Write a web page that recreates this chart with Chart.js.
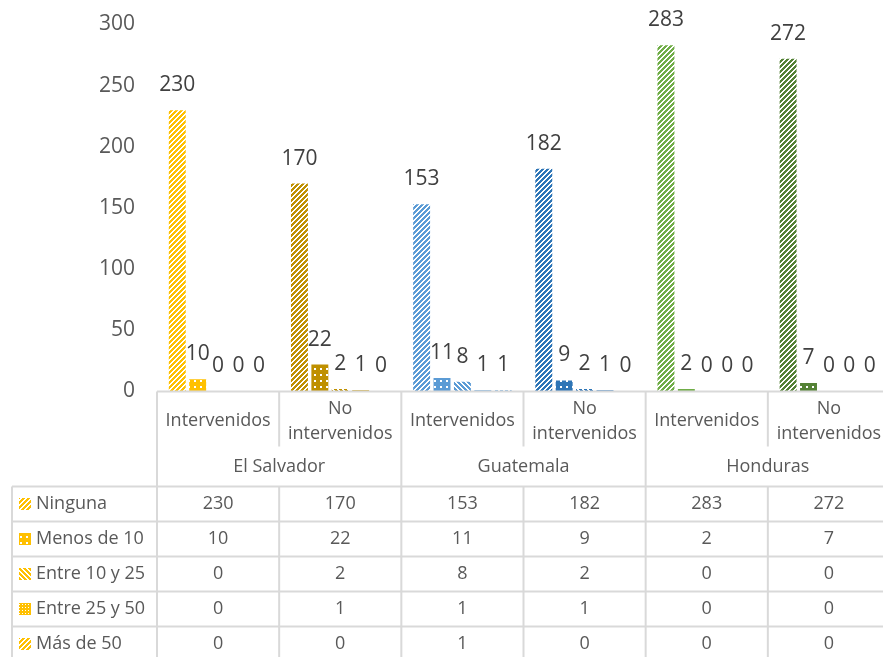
<!DOCTYPE html>
<html>
<head>
<meta charset="utf-8">
<script src="https://cdn.jsdelivr.net/npm/chart.js@4.4.1/dist/chart.umd.min.js"></script>
<style>
  html, body { margin: 0; padding: 0; background: #fff; overflow: hidden; }
  #wrap { width: 900px; height: 657px; }
</style>
</head>
<body>
<div id="wrap"><canvas id="myChart" width="900" height="657"></canvas></div>
<script>
// categories (two levels)
const groupLabels = ['Intervenidos', 'No\nintervenidos', 'Intervenidos', 'No\nintervenidos', 'Intervenidos', 'No\nintervenidos'];
const countries = ['El Salvador', 'Guatemala', 'Honduras'];

// series
const seriesNames = ['Ninguna', 'Menos de 10', 'Entre 10 y 25', 'Entre 25 y 50', 'Más de 50'];
const ninguna = [230, 170, 153, 182, 283, 272];
const menosDe10 = [10, 22, 11, 9, 2, 7];
const entre10y25 = [0, 2, 8, 2, 0, 0];
const entre25y50 = [0, 1, 1, 1, 0, 0];
const masDe50 = [0, 0, 1, 0, 0, 0];

// y axis ticks
const yTicks = [0, 50, 100, 150, 200, 250, 300];

const categoryColors = ['#FFC000', '#BF9000', '#5B9BD5', '#2E75B6', '#70AD47', '#548235'];
const patternKinds = ['up', 'dots', 'down', 'grid', 'up'];

const textColor = '#595959';
const lineColor = '#D9D9D9';

function makePattern(color, kind) {
    var c = document.createElement('canvas');
    var n = (kind == 'dots' || kind == 'grid') ? 6 : 5;
    c.width = n; c.height = n;
    var p = c.getContext('2d');
    p.fillStyle = '#fff';
    p.fillRect(0, 0, n, n);
    p.fillStyle = color;
    for (let x = 0; x < n; x++) {
        for (let y = 0; y < n; y++) {
            var on = false;
            if (kind == 'up') on = ((x + y) % 5) < 3;
            if (kind == 'down') on = (((x - y) % 5) + 5) % 5 < 3;
            if (kind == 'dots') on = !((x == 2 || x == 3) && (y == 2 || y == 3));
            if (kind == 'grid') on = !((x == 1 && y == 1) || (x == 4 && y == 4) || (x == 1 && y == 4) || (x == 4 && y == 1));
            if (on) p.fillRect(x, y, 1, 1);
        }
    }
    return p.createPattern(c, 'repeat');
}

const seriesData = [ninguna, menosDe10, entre10y25, entre25y50, masDe50];

var datasets = seriesNames.map(function (name, s) {
    return {
        label: name,
        data: seriesData[s],
        backgroundColor: categoryColors.map(col => makePattern(col, patternKinds[s])),
        borderWidth: 0,
        categoryPercentage: 0.835,
        barPercentage: 0.83
    }
});

// value labels above bars
const barLabels = {
    id: 'barLabels',
    afterDatasetsDraw(chart) {
        const ctx = chart.ctx;
        ctx.save();
        ctx.font = "21px 'Open Sans'";
        ctx.fillStyle = '#404040';
        ctx.textAlign = 'center';
        ctx.textBaseline = 'middle';
        chart.data.datasets.forEach(function (ds, i) {
            chart.getDatasetMeta(i).data.forEach(function (bar, j) {
                ctx.fillText(String(ds.data[j]), bar.x, bar.y - 25);
            });
        });
        ctx.restore();
    }
};

// data table under the plot
const dataTable = {
    id: 'dataTable',
    afterDraw(chart) {
        const ctx = chart.ctx;
        const area = chart.chartArea;
        const top = area.bottom;
        const bottom = 662;
        const colW = (area.right - area.left) / groupLabels.length;
        const tableTop = top + 95;
        const rowH = 35;
        const leftEdge = 12;

        ctx.save();
        ctx.strokeStyle = lineColor;
        ctx.lineWidth = 2;
        function line(x1, y1, x2, y2) {
            ctx.beginPath(); ctx.moveTo(x1, y1); ctx.lineTo(x2, y2); ctx.stroke();
        }
        line(area.left, top, area.right, top);
        line(leftEdge, tableTop, area.right, tableTop);
        for (let r = 1; r <= seriesNames.length; r++) {
            line(leftEdge, tableTop + r * rowH, area.right, tableTop + r * rowH);
        }
        line(area.left, top, area.left, bottom);
        line(area.right, top, area.right, bottom);
        line(leftEdge, tableTop, leftEdge, bottom);
        for (let i = 1; i < groupLabels.length; i++) {
            const x = area.left + i * colW;
            if (i % 2 == 0) {
                line(x, top, x, bottom);
            } else {
                line(x, top, x, top + 55);
                line(x, tableTop, x, bottom);
            }
        }

        ctx.font = "18px 'Open Sans'";
        ctx.fillStyle = textColor;
        ctx.textAlign = 'center';
        ctx.textBaseline = 'middle';
        groupLabels.forEach(function (lab, i) {
            const cx = area.left + (i + 0.5) * colW;
            const parts = lab.split('\n');
            if (parts.length == 2) {
                ctx.fillText(parts[0], cx, top + 17.5);
                ctx.fillText(parts[1], cx, top + 42.5);
            } else {
                ctx.fillText(parts[0], cx, top + 29.5);
            }
        });
        countries.forEach(function (name, g) {
            ctx.fillText(name, area.left + (2 * g + 1) * colW, top + 75.5);
        });

        chart.data.datasets.forEach(function (ds, s) {
            const cy = tableTop + (s + 0.5) * rowH;
            ctx.fillStyle = ds.backgroundColor[0];
            ctx.fillRect(19, cy - 6, 12, 12);
            ctx.fillStyle = textColor;
            ctx.textAlign = 'left';
            ctx.fillText(ds.label, 36, cy);
            ctx.textAlign = 'center';
            ds.data.forEach(function (v, j) {
                ctx.fillText(String(v), area.left + (j + 0.5) * colW, cy);
            });
        });
        ctx.restore();
    }
};

Chart.defaults.font.family = "'Open Sans'";
Chart.defaults.color = textColor;

new Chart(document.getElementById('myChart').getContext('2d'), {
    type: 'bar',
    data: {
        labels: groupLabels,
        datasets: datasets
    },
    options: {
        responsive: false,
        animation: false,
        layout: {
            padding: { left: 0, right: 10, top: 24.5, bottom: 265.5 }
        },
        plugins: {
            legend: { display: false },
            tooltip: { enabled: false }
        },
        scales: {
            x: {
                display: false,
                grid: { display: false }
            },
            y: {
                min: 0,
                max: 300,
                afterFit: function (scale) {
                    scale.width = 157;
                    scale.paddingTop = 0;
                    scale.paddingBottom = 0;
                },
                afterBuildTicks: function (scale) {
                    scale.ticks = yTicks.map(v => ({ value: v }));
                },
                border: { display: false },
                grid: { display: false, drawTicks: false },
                ticks: {
                    padding: 22,
                    font: { size: 21 },
                    color: textColor
                }
            }
        }
    },
    plugins: [barLabels, dataTable]
});
</script>
</body>
</html>
